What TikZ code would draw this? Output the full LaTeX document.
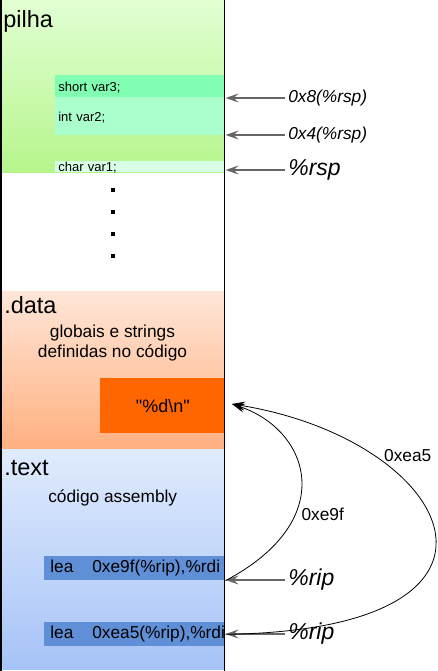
\documentclass[tikz,border=0pt]{standalone}
\usepackage{fontspec}
\setmainfont{Liberation Sans}
\usetikzlibrary{positioning, arrows.meta}

\definecolor{pilhatop}{HTML}{E2FFD4}
\definecolor{pilhabot}{HTML}{B6F58C}
\definecolor{var3col}{HTML}{80FFB2}
\definecolor{var2col}{HTML}{AAFFCC}
\definecolor{var1col}{HTML}{D8FFE6}
\definecolor{datatop}{HTML}{FFE6D8}
\definecolor{databot}{HTML}{FFB080}
\definecolor{fmtcol}{HTML}{FF6600}
\definecolor{texttop}{HTML}{E0EBFD}
\definecolor{textbot}{HTML}{A6C3F7}
\definecolor{leacol}{HTML}{5F8FD6}

\newcommand{\seclblfont}{\fontsize{23.5}{27}\selectfont}
\newcommand{\txtfont}{\fontsize{17.3}{20}\selectfont}
\newcommand{\varfont}{\fontsize{13}{15}\selectfont}
\newcommand{\regfont}{\fontsize{23}{27}\selectfont\itshape}

\begin{document}
\begin{tikzpicture}[x=1pt, y=-1pt, >={Stealth[length=13pt,width=9pt,inset=5pt]}, semithick,
    seclbl/.style={anchor=base west, inner sep=0pt, font=\seclblfont},
    txt/.style={inner sep=0pt, font=\txtfont},
    stackbox/.style={anchor=north west, inner xsep=3pt, inner ysep=0pt, text width=164pt, align=left, font=\varfont},
    leabox/.style={anchor=north west, fill=leacol, inner xsep=6pt, inner ysep=0pt, minimum height=24pt, text width=169pt, align=left, font=\txtfont},
    offlbl/.style={anchor=west, inner sep=3pt, font=\txtfont\itshape},
    reglbl/.style={anchor=west, inner sep=3pt, font=\regfont},
    ptr/.style={->, draw=black!60, line width=1.2pt},
    jump/.style={->, line width=0.8pt}]
  \useasboundingbox (0,0) rectangle (438,671);

  % pilha
  \shade[top color=pilhatop, bottom color=pilhabot] (1,0) rectangle (225,172);
  \node[seclbl] (pilha) at (3,28) {pilha};
  \node[stackbox, fill=var3col, text height=16pt, text depth=6pt] (var3) at (55,75) {short var3;};
  \node[stackbox, fill=var2col, text height=24pt, text depth=14pt] (var2) at (55,97) {int var2;};
  \node[stackbox, fill=var1col, text height=10pt, text depth=1pt] (var1) at (55,161) {char var1;};
  \foreach \y in {188,210,232,254}
    \fill (111,\y) rectangle +(4,4);

  % .data
  \shade[top color=datatop, bottom color=databot] (1,291) rectangle (225,449);
  \node[seclbl] (data) at (4,313) {.data};
  \node[txt, align=center] (globais) at (112.5,343.5) {globais e strings\\definidas no código};
  \node[anchor=north west, fill=fmtcol, minimum width=125pt, minimum height=55pt, font=\fontsize{18}{20}\selectfont] (fmt) at (100,378) {\textquotedbl\%d\textbackslash n\textquotedbl};
  \coordinate (fmttip) at (232,404);

  % .text
  \shade[top color=texttop, bottom color=textbot] (1,449) rectangle (225,669);
  \node[seclbl] (text) at (4,475) {.text};
  \node[txt, anchor=base west] (asm) at (48,502) {código assembly};
  \node[leabox] (lea1) at (44,556) {\makebox[42pt][l]{lea}0xe9f(\%rip),\%rdi};
  \node[leabox] (lea2) at (44,622) {\makebox[42pt][l]{lea}0xea5(\%rip),\%rdi};

  \draw[line width=1.5pt] (1,0) -- (1,671);
  \draw[line width=1.2pt] (224.5,0) -- (224.5,671);

  % ponteiros
  \node[offlbl] (off8) at (285,98) {0x8(\%rsp)};
  \node[offlbl] (off4) at (285,135) {0x4(\%rsp)};
  \node[reglbl] (rsp) at (285,170) {\%rsp};
  \node[reglbl] (rip1) at (285,580) {\%rip};
  \node[reglbl] (rip2) at (285,634) {\%rip};
  \draw[ptr] (off8.west) -- (off8.west -| var3.east);
  \draw[ptr] (off4.west) -- (off4.west -| var2.east);
  \draw[ptr] (rsp.west) -- (rsp.west -| var1.east);
  \draw[ptr] (rip1.west) -- (rip1.west -| lea1.east);
  \draw[ptr] (rip2.west) -- (rip2.west -| lea2.east);

  \draw[jump] (lea1.south east) .. controls (340,520) and (310,430) .. (fmttip)
    node[pos=0.33, anchor=west, inner sep=6pt, font=\txtfont] {0xe9f};
  \draw[jump] (lea2.east) .. controls (550,630) and (455,440) .. (fmttip)
    node[pos=0.72, anchor=south west, inner sep=1pt, font=\txtfont] {0xea5};
\end{tikzpicture}
\end{document}
